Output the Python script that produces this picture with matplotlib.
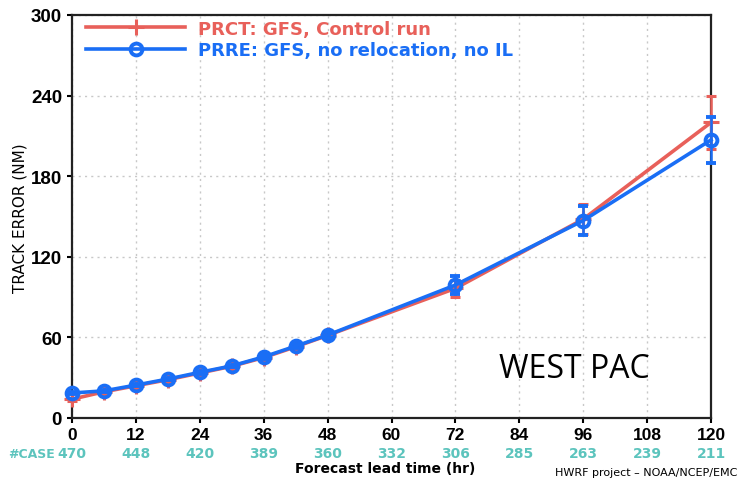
import matplotlib
matplotlib.use("Agg")
import matplotlib.pyplot as plt
from matplotlib.font_manager import FontProperties
from matplotlib.lines import Line2D

# Forecast lead times (hr)
lead_time = [0, 6, 12, 18, 24, 30, 36, 42, 48, 72, 96, 120]

# Mean track error (NM)
prct_err = [14.0, 19.5, 24.0, 28.5, 33.5, 38.5, 45.0, 53.0, 61.5, 96.5, 148.0, 220.0]
prre_err = [18.6, 20.2, 24.5, 29.0, 34.0, 38.8, 45.5, 53.5, 61.7, 99.0, 147.0, 207.0]

# Half-width of the confidence intervals
prct_ci = [1.0, 1.0, 1.0, 1.0, 1.0, 1.0, 1.5, 1.5, 2.0, 6.5, 11.0, 20.0]
prre_ci = [1.0, 1.0, 1.0, 1.0, 1.0, 1.0, 1.5, 1.5, 2.0, 7.0, 11.0, 17.0]

# Number of verifying cases per lead time
case_hours = [0, 12, 24, 36, 48, 60, 72, 84, 96, 108, 120]
case_counts = [470, 448, 420, 389, 360, 332, 306, 285, 263, 239, 211]

x_ticks = [0, 12, 24, 36, 48, 60, 72, 84, 96, 108, 120]
y_ticks = [0, 60, 120, 180, 240, 300]

series_labels = ["PRCT: GFS, Control run", "PRRE: GFS, no relocation, no IL"]

RED = "#e8605a"
BLUE = "#1a6ef5"
TEAL = "#5cc4bd"

W, H = 741, 481
fig = plt.figure(figsize=(W / 100, H / 100), dpi=100)
ax = fig.add_axes([72 / W, 1 - 419 / H, (711 - 72) / W, (419 - 16) / H])

red_style = dict(color=RED, lw=2.6, marker="+", ms=11, mew=2.2)
blue_style = dict(color=BLUE, lw=2.6, marker="o", ms=8.5, mfc="none", mew=2.8)

ax.errorbar(lead_time, prct_err, yerr=prct_ci, capsize=3.6, capthick=2,
            elinewidth=1.8, clip_on=False, zorder=3, **red_style)
ax.errorbar(lead_time, prre_err, yerr=prre_ci, capsize=3.6, capthick=2,
            elinewidth=1.8, clip_on=False, zorder=4, **blue_style)

ax.set_xlim(0, 120)
ax.set_ylim(0, 300)
ax.set_xticks(x_ticks)
ax.set_yticks(y_ticks)
ax.set_xticklabels([str(v) for v in x_ticks],
                   fontproperties=FontProperties(family=["Liberation Sans Narrow", "Liberation Sans"],
                                                 weight="bold", size=12.5))
ax.set_yticklabels([str(v) for v in y_ticks],
                   fontproperties=FontProperties(family="Liberation Sans",
                                                 weight="bold", size=13.5))
ax.grid(True, color="#c8c8c8", ls=(0, (1.5, 3)), lw=1)
ax.tick_params(axis="both", direction="out", length=3.8, width=1.5, pad=3.4, colors="black")
ax.tick_params(axis="x", pad=2.5)
for sp in ax.spines.values():
    sp.set_linewidth(1.6)
    sp.set_color("#222222")

handles = [Line2D([], [], **red_style), Line2D([], [], **blue_style)]
leg = ax.legend(handles, series_labels, loc="upper left", bbox_to_anchor=(0.0106, 1.006),
                frameon=False, handlelength=5.5, borderaxespad=0, labelspacing=0.17,
                handletextpad=0.7,
                prop=dict(family="DejaVu Sans", size=13, weight="bold"))
for txt, col in zip(leg.get_texts(), [RED, BLUE]):
    txt.set_color(col)

fig.text(20 / W, 1 - 218 / H, "TRACK ERROR (NM)", rotation=90, ha="center",
         va="center", fontsize=11, family="DejaVu Sans")

# Case counts beneath the lead-time axis
for h, n in zip(case_hours, case_counts):
    ax.text(h, -(454 - 419) / 403, str(n), transform=ax.get_xaxis_transform(),
            ha="center", va="center", color=TEAL, fontsize=10, weight="bold",
            family="DejaVu Sans")
fig.text(8 / W, 1 - 454 / H, "#CASE", ha="left", va="center", color=TEAL,
         fontsize=9, family="DejaVu Sans", weight="bold")

fig.text(385 / W, 1 - 469 / H, "Forecast lead time (hr)", ha="center", va="center",
         fontsize=10, family="DejaVu Sans", weight="bold")
fig.text(737 / W, 1 - 473 / H, "HWRF project \u2013 NOAA/NCEP/EMC", ha="right",
         va="center", fontsize=8, family="DejaVu Sans")

fig.text(574 / W, 1 - 370 / H, "WEST PAC", ha="center", va="center",
         fontsize=23, family="Open Sans", color="black")

fig.savefig("out.png", dpi=100)
